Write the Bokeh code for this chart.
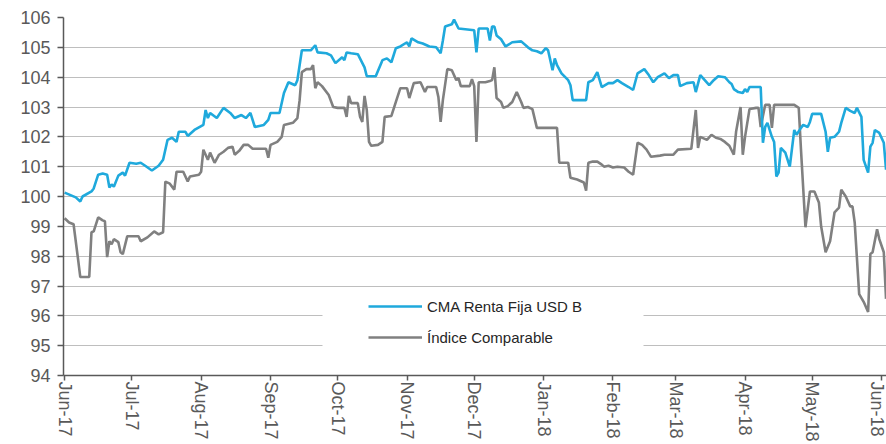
import pandas as pd
from datetime import datetime
from bokeh.plotting import figure
from bokeh.models import (ColumnDataSource, Range1d, FixedTicker, MonthsTicker,
                          DatetimeTickFormatter, Legend, LegendItem, BoxAnnotation)
from bokeh.embed import file_html
from bokeh.resources import INLINE

# ---------------- data ----------------
cma_dates = [
    "2017-06-01", "2017-06-06", "2017-06-08", "2017-06-09", "2017-06-13", "2017-06-14",
    "2017-06-16", "2017-06-18", "2017-06-20", "2017-06-21", "2017-06-22", "2017-06-23",
    "2017-06-25", "2017-06-27", "2017-06-28", "2017-06-30", "2017-07-03", "2017-07-05",
    "2017-07-07", "2017-07-10", "2017-07-13", "2017-07-15", "2017-07-17", "2017-07-19",
    "2017-07-21", "2017-07-22", "2017-07-25", "2017-07-26", "2017-07-29", "2017-08-02",
    "2017-08-03", "2017-08-04", "2017-08-05", "2017-08-08", "2017-08-11", "2017-08-14",
    "2017-08-16", "2017-08-19", "2017-08-21", "2017-08-23", "2017-08-25", "2017-08-29",
    "2017-08-31", "2017-09-01", "2017-09-05", "2017-09-07", "2017-09-09", "2017-09-12",
    "2017-09-13", "2017-09-15", "2017-09-19", "2017-09-21", "2017-09-22", "2017-09-26",
    "2017-09-28", "2017-09-30", "2017-10-03", "2017-10-04", "2017-10-05", "2017-10-07",
    "2017-10-10", "2017-10-13", "2017-10-14", "2017-10-18", "2017-10-21", "2017-10-23",
    "2017-10-25", "2017-10-27", "2017-10-29", "2017-11-01", "2017-11-02", "2017-11-03",
    "2017-11-06", "2017-11-08", "2017-11-11", "2017-11-14", "2017-11-16", "2017-11-17",
    "2017-11-18", "2017-11-21", "2017-11-22", "2017-11-24", "2017-11-28", "2017-12-01",
    "2017-12-02", "2017-12-03", "2017-12-07", "2017-12-08", "2017-12-09", "2017-12-10",
    "2017-12-11", "2017-12-13", "2017-12-15", "2017-12-18", "2017-12-22", "2017-12-25",
    "2017-12-27", "2017-12-29", "2017-12-31", "2018-01-02", "2018-01-03", "2018-01-04",
    "2018-01-05", "2018-01-06", "2018-01-07", "2018-01-09", "2018-01-12", "2018-01-13",
    "2018-01-14", "2018-01-20", "2018-01-21", "2018-01-23", "2018-01-25", "2018-01-27",
    "2018-01-30", "2018-02-01", "2018-02-03", "2018-02-05", "2018-02-08", "2018-02-10",
    "2018-02-12", "2018-02-15", "2018-02-17", "2018-02-19", "2018-02-21", "2018-02-24",
    "2018-02-26", "2018-02-28", "2018-03-02", "2018-03-03", "2018-03-06", "2018-03-09",
    "2018-03-10", "2018-03-12", "2018-03-14", "2018-03-16", "2018-03-18", "2018-03-20",
    "2018-03-23", "2018-03-25", "2018-03-26", "2018-03-27", "2018-03-29", "2018-03-31",
    "2018-04-01", "2018-04-02", "2018-04-03", "2018-04-08", "2018-04-09", "2018-04-10",
    "2018-04-11", "2018-04-13", "2018-04-14", "2018-04-15", "2018-04-16", "2018-04-17",
    "2018-04-19", "2018-04-21", "2018-04-23", "2018-04-24", "2018-04-26", "2018-04-27",
    "2018-04-29", "2018-04-30", "2018-05-01", "2018-05-05", "2018-05-07", "2018-05-08",
    "2018-05-09", "2018-05-11", "2018-05-13", "2018-05-14", "2018-05-16", "2018-05-18",
    "2018-05-20", "2018-05-21", "2018-05-23", "2018-05-24", "2018-05-26", "2018-05-27",
    "2018-05-28", "2018-05-29", "2018-05-31", "2018-06-02", "2018-06-03",
]
cma_values = [
    100.13, 99.97, 99.83, 100.00, 100.17, 100.27,
    100.73, 100.77, 100.73, 100.30, 100.40, 100.33,
    100.70, 100.80, 100.70, 101.13, 101.10, 101.13,
    101.03, 100.87, 101.03, 101.23, 101.90, 101.97,
    101.83, 102.17, 102.17, 102.03, 102.23, 102.40,
    102.90, 102.63, 102.80, 102.63, 102.97, 102.80,
    102.63, 102.73, 102.63, 102.80, 102.33, 102.40,
    102.57, 102.80, 102.80, 103.47, 103.83, 103.73,
    103.90, 104.90, 104.90, 105.07, 104.83, 104.80,
    104.73, 104.47, 104.67, 104.57, 104.83, 104.80,
    104.77, 104.33, 104.03, 104.03, 104.57, 104.63,
    104.50, 104.97, 105.03, 105.17, 105.03, 105.30,
    105.17, 105.13, 105.03, 105.00, 104.80, 105.23,
    105.70, 105.77, 105.93, 105.63, 105.60, 105.57,
    104.83, 105.63, 105.63, 105.23, 105.70, 105.70,
    105.40, 105.27, 105.03, 105.17, 105.20, 105.00,
    104.90, 104.87, 104.80, 104.97, 104.90, 104.57,
    104.23, 104.63, 104.40, 104.13, 103.90, 103.73,
    103.23, 103.23, 103.83, 103.90, 104.17, 103.67,
    103.80, 103.80, 103.90, 103.80, 103.67, 103.57,
    104.13, 104.27, 104.07, 103.83, 104.00, 104.13,
    103.97, 104.07, 104.07, 103.70, 103.80, 103.83,
    103.50, 104.07, 103.90, 103.73, 103.90, 104.03,
    104.00, 103.83, 103.77, 103.60, 103.50, 103.47,
    103.60, 103.50, 103.67, 103.67, 101.80, 102.33,
    102.47, 102.00, 101.83, 100.67, 100.80, 101.63,
    101.47, 101.00, 102.23, 102.07, 102.30, 102.40,
    102.33, 102.50, 102.77, 102.77, 102.17, 101.50,
    101.97, 102.00, 102.17, 102.47, 102.97, 102.87,
    102.80, 102.97, 102.67, 101.23, 100.80, 101.67,
    101.80, 102.23, 102.13, 101.80, 100.90,
]

idx_dates = [
    "2017-06-01", "2017-06-03", "2017-06-05", "2017-06-07", "2017-06-08", "2017-06-12",
    "2017-06-13", "2017-06-14", "2017-06-16", "2017-06-18", "2017-06-19", "2017-06-20",
    "2017-06-21", "2017-06-22", "2017-06-23", "2017-06-25", "2017-06-26", "2017-06-27",
    "2017-06-29", "2017-07-04", "2017-07-05", "2017-07-08", "2017-07-11", "2017-07-13",
    "2017-07-15", "2017-07-16", "2017-07-18", "2017-07-20", "2017-07-21", "2017-07-24",
    "2017-07-26", "2017-07-27", "2017-07-31", "2017-08-01", "2017-08-02", "2017-08-04",
    "2017-08-05", "2017-08-07", "2017-08-09", "2017-08-11", "2017-08-13", "2017-08-15",
    "2017-08-16", "2017-08-18", "2017-08-20", "2017-08-22", "2017-08-24", "2017-08-30",
    "2017-08-31", "2017-09-01", "2017-09-04", "2017-09-06", "2017-09-07", "2017-09-11",
    "2017-09-13", "2017-09-14", "2017-09-15", "2017-09-17", "2017-09-19", "2017-09-20",
    "2017-09-21", "2017-09-22", "2017-09-24", "2017-09-27", "2017-09-29", "2017-10-01",
    "2017-10-04", "2017-10-05", "2017-10-06", "2017-10-07", "2017-10-10", "2017-10-11",
    "2017-10-12", "2017-10-13", "2017-10-14", "2017-10-15", "2017-10-16", "2017-10-19",
    "2017-10-21", "2017-10-22", "2017-10-25", "2017-10-27", "2017-10-29", "2017-11-01",
    "2017-11-02", "2017-11-04", "2017-11-07", "2017-11-09", "2017-11-10", "2017-11-14",
    "2017-11-15", "2017-11-16", "2017-11-17", "2017-11-19", "2017-11-21", "2017-11-23",
    "2017-11-24", "2017-11-25", "2017-11-29", "2017-11-30", "2017-12-01", "2017-12-02",
    "2017-12-03", "2017-12-06", "2017-12-08", "2017-12-09", "2017-12-10", "2017-12-11",
    "2017-12-13", "2017-12-14", "2017-12-16", "2017-12-18", "2017-12-20", "2017-12-22",
    "2017-12-23", "2017-12-25", "2017-12-27", "2017-12-29", "2018-01-07", "2018-01-08",
    "2018-01-12", "2018-01-13", "2018-01-16", "2018-01-19", "2018-01-20", "2018-01-21",
    "2018-01-23", "2018-01-25", "2018-01-27", "2018-01-28", "2018-01-30", "2018-02-01",
    "2018-02-03", "2018-02-06", "2018-02-08", "2018-02-10", "2018-02-12", "2018-02-14",
    "2018-02-16", "2018-02-18", "2018-02-22", "2018-02-24", "2018-02-28", "2018-03-02",
    "2018-03-08", "2018-03-10", "2018-03-11", "2018-03-12", "2018-03-15", "2018-03-17",
    "2018-03-19", "2018-03-21", "2018-03-23", "2018-03-25", "2018-03-27", "2018-03-28",
    "2018-03-30", "2018-03-31", "2018-04-01", "2018-04-03", "2018-04-06", "2018-04-07",
    "2018-04-08", "2018-04-10", "2018-04-12", "2018-04-13", "2018-04-14", "2018-04-23",
    "2018-04-25", "2018-04-26", "2018-04-28", "2018-04-30", "2018-05-02", "2018-05-04",
    "2018-05-05", "2018-05-07", "2018-05-09", "2018-05-11", "2018-05-13", "2018-05-14",
    "2018-05-16", "2018-05-18", "2018-05-19", "2018-05-20", "2018-05-22", "2018-05-24",
    "2018-05-26", "2018-05-27", "2018-05-28", "2018-05-30", "2018-05-31", "2018-06-02",
    "2018-06-03",
]
idx_values = [
    99.27, 99.13, 99.07, 97.90, 97.30, 97.30,
    98.80, 98.83, 99.30, 99.20, 99.17, 97.97,
    98.50, 98.40, 98.57, 98.47, 98.13, 98.07,
    98.67, 98.67, 98.50, 98.63, 98.83, 98.73,
    98.80, 100.50, 100.43, 100.23, 100.83, 100.83,
    100.50, 100.67, 100.73, 100.83, 101.57, 101.23,
    101.47, 101.13, 101.40, 101.50, 101.63, 101.67,
    101.40, 101.53, 101.73, 101.73, 101.60, 101.60,
    101.30, 101.73, 101.83, 102.00, 102.40, 102.47,
    102.63, 103.23, 104.17, 104.27, 104.27, 104.40,
    103.63, 103.83, 103.70, 103.40, 103.00, 102.97,
    102.97, 102.67, 103.37, 103.13, 103.13, 102.67,
    102.50, 103.37, 102.90, 101.83, 101.70, 101.73,
    101.83, 102.67, 102.70, 103.17, 103.63, 103.63,
    103.30, 103.80, 103.83, 103.50, 103.67, 103.67,
    103.33, 102.50, 103.23, 104.27, 104.23, 103.90,
    103.97, 103.70, 103.70, 103.93, 103.70, 101.83,
    103.83, 103.83, 103.87, 103.90, 104.33, 103.30,
    103.17, 102.97, 103.03, 103.17, 103.50, 103.17,
    102.97, 103.00, 102.93, 102.30, 102.30, 101.13,
    101.13, 100.63, 100.57, 100.47, 100.20, 101.13,
    101.17, 101.17, 101.07, 101.00, 101.03, 100.97,
    101.00, 100.97, 100.83, 100.73, 101.80, 101.73,
    101.57, 101.33, 101.37, 101.40, 101.40, 101.57,
    101.60, 102.90, 101.63, 102.00, 101.90, 102.07,
    101.97, 101.93, 101.83, 101.70, 101.40, 102.17,
    103.00, 101.40, 102.00, 102.93, 102.97, 102.97,
    102.33, 103.07, 103.07, 102.30, 103.07, 103.07,
    102.97, 101.57, 98.97, 100.17, 100.17, 99.80,
    99.00, 98.13, 98.50, 99.47, 99.63, 100.23,
    100.00, 99.67, 99.67, 99.13, 96.73, 96.47,
    96.13, 98.07, 98.13, 98.90, 98.57, 98.13,
    96.57,
]

y_ticks = list(range(94, 107))
series_labels = ["CMA Renta Fija USD B", "Índice Comparable"]

# ---------------- figure ----------------
FONT = "Liberation Sans"
TXT = "#595959"

src_cma = ColumnDataSource(dict(date=pd.to_datetime(cma_dates), value=cma_values))
src_idx = ColumnDataSource(dict(date=pd.to_datetime(idx_dates), value=idx_values))

p = figure(width=886, height=444, x_axis_type="datetime",
           output_backend="svg", toolbar_location=None,
           x_range=Range1d(datetime(2017, 5, 31, 12), datetime(2018, 6, 3, 5)),
           y_range=Range1d(94, 106),
           min_border_left=63, min_border_right=0, min_border_top=17, min_border_bottom=67)
p.outline_line_color = None
p.background_fill_color = "white"

# legend background panel (hides gridlines like the original)
panel = BoxAnnotation(left=322, right=643, top=290, bottom=362,
                      left_units="canvas", right_units="canvas",
                      top_units="canvas", bottom_units="canvas",
                      fill_color="white", fill_alpha=1.0, line_color=None,
                      level="underlay")
p.add_layout(panel)

r_idx = p.line(x="date", y="value", source=src_idx, line_color="#808080", line_width=2.6)
r_cma = p.line(x="date", y="value", source=src_cma, line_color="#1FA9DC", line_width=2.6)

# y axis
p.yaxis.ticker = FixedTicker(ticks=y_ticks)
p.yaxis.major_label_text_font = FONT
p.yaxis.major_label_text_font_size = "18px"
p.yaxis.major_label_text_color = TXT
p.yaxis.axis_line_color = TXT
p.yaxis.axis_line_width = 1.5
p.yaxis.major_tick_line_color = TXT
p.yaxis.major_tick_line_width = 1.5
p.yaxis.major_tick_out = 6
p.yaxis.major_tick_in = 0
p.yaxis.minor_tick_line_color = None
p.yaxis.major_label_standoff = 7

# x axis
p.xaxis.ticker = MonthsTicker(months=list(range(12)))
p.xaxis.formatter = DatetimeTickFormatter(months="%b-%y", days="%b-%y", years="%b-%y")
p.xaxis.major_label_orientation = "vertical"
p.xaxis.major_label_text_font = FONT
p.xaxis.major_label_text_font_size = "18px"
p.xaxis.major_label_text_color = TXT
p.xaxis.axis_line_color = TXT
p.xaxis.axis_line_width = 1.5
p.xaxis.major_tick_line_color = TXT
p.xaxis.major_tick_line_width = 1.5
p.xaxis.major_tick_out = 5
p.xaxis.major_tick_in = 0
p.xaxis.minor_tick_line_color = None
p.xaxis.major_label_standoff = 1

# grid
p.xgrid.grid_line_color = None
p.ygrid.ticker = FixedTicker(ticks=y_ticks)
p.ygrid.grid_line_color = "#BEBEBE"
p.ygrid.grid_line_width = 1.2

# legend
legend = Legend(items=[LegendItem(label=series_labels[0], renderers=[r_cma]),
                       LegendItem(label=series_labels[1], renderers=[r_idx])],
                location=(305, 28), glyph_width=54, glyph_height=20,
                label_height=20, label_standoff=5, spacing=11, padding=5, margin=0,
                background_fill_alpha=0, border_line_color=None,
                label_text_font=FONT, label_text_font_size="15px",
                label_text_color="#262626")
p.add_layout(legend)

open("out.html", "w").write(file_html(p, INLINE))
